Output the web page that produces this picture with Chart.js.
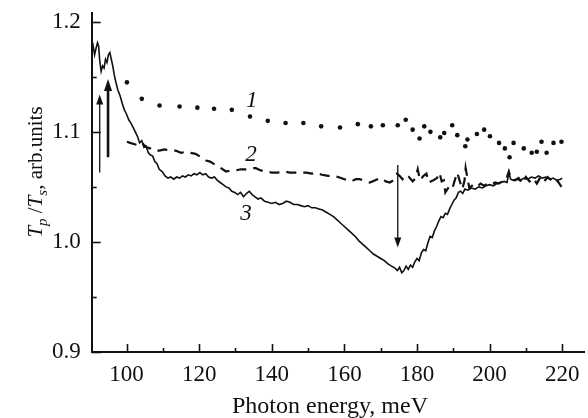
<!DOCTYPE html>
<html><head><meta charset="utf-8">
<script src="https://cdn.jsdelivr.net/npm/chart.js@4.4.0/dist/chart.umd.min.js"></script>
<style>html,body{margin:0;padding:0;background:#fff;}canvas{display:block;}</style>
</head><body>
<canvas id="c" width="588" height="418"></canvas>
<script>
// ---- data ----
const curve3E = [90.4,90.8,91.2,91.6,92.0,92.3,92.6,93.0,93.4,93.8,94.2,94.6,95.0,95.4,95.8,96.2,96.6,97.0,97.6,98.2,98.8,99.4,100.0,100.6,101.2,101.8,102.4,103.0,103.6,104.2,104.8,105.4,106.0,106.6,107.2,107.8,108.4,109.0,109.8,110.6,111.4,112.2,113.0,113.8,114.6,115.4,116.2,117.0,117.8,118.6,119.4,120.2,121.0,121.8,122.6,123.4,124.2,125.0,125.8,126.6,127.4,128.2,129.0,129.8,130.6,131.4,132.2,133.0,133.8,134.6,135.4,136.2,137.0,138.0,139.0,140.0,141.0,142.0,143.0,144.0,145.0,146.0,147.0,148.0,149.0,150.0,151.0,152.0,153.0,154.0,155.0,156.0,157.0,158.0,159.0,160.0,161.0,162.0,163.0,164.0,165.0,166.0,167.0,168.0,169.0,170.0,171.0,172.0,173.0,174.0,174.6,175.2,175.8,176.4,177.0,177.6,178.2,178.8,179.4,180.0,180.6,181.2,181.8,182.4,183.0,183.6,184.2,184.8,185.4,186.0,186.6,187.2,187.8,188.4,189.0,189.6,190.2,190.8,191.4,192.0,192.6,193.2,194.0,195.0,196.0,197.0,198.0,199.0,200.0,201.0,202.0,203.0,204.0,204.8,205.3,205.8,206.5,207.5,208.5,209.5,210.5,211.5,212.5,213.5,214.5,215.5,216.5,217.5,218.5,219.5,220.0];
const curve3T = [1.172,1.178,1.170,1.176,1.181,1.178,1.165,1.155,1.160,1.158,1.166,1.163,1.170,1.172,1.166,1.160,1.152,1.146,1.138,1.133,1.126,1.120,1.116,1.111,1.108,1.104,1.100,1.096,1.090,1.092,1.086,1.087,1.081,1.079,1.078,1.073,1.071,1.066,1.064,1.060,1.058,1.059,1.057,1.059,1.058,1.060,1.059,1.061,1.060,1.062,1.061,1.063,1.061,1.062,1.059,1.058,1.059,1.056,1.054,1.052,1.050,1.049,1.046,1.045,1.043,1.045,1.041,1.044,1.046,1.043,1.041,1.039,1.040,1.037,1.036,1.035,1.036,1.034,1.035,1.037,1.036,1.034,1.034,1.033,1.032,1.033,1.031,1.031,1.030,1.029,1.027,1.025,1.023,1.020,1.017,1.014,1.011,1.008,1.005,1.001,0.998,0.995,0.992,0.989,0.987,0.985,0.983,0.980,0.978,0.976,0.974,0.977,0.972,0.974,0.978,0.975,0.979,0.977,0.982,0.985,0.983,0.990,0.993,0.992,0.999,1.005,1.004,1.010,1.014,1.019,1.023,1.022,1.026,1.025,1.030,1.034,1.038,1.040,1.045,1.046,1.044,1.048,1.047,1.049,1.048,1.050,1.049,1.051,1.052,1.051,1.053,1.054,1.055,1.054,1.063,1.057,1.056,1.057,1.056,1.058,1.057,1.059,1.058,1.060,1.058,1.059,1.057,1.058,1.056,1.057,1.058];

const curve2E = [100.1,101.0,102.0,103.0,104.0,104.5,105.5,106.5,107.5,109.0,110.5,112.0,113.5,115.0,116.5,117.5,119.0,120.5,121.9,123.0,124.5,126.0,127.4,128.8,130.1,131.5,132.9,134.3,135.6,137.0,138.3,140.0,141.6,143.3,145.0,146.5,148.0,149.5,151.0,152.2,153.8,155.5,157.0,158.3,160.0,161.5,162.5,163.2,164.2,165.1,166.0,167.0,168.5,169.8,170.6,171.4,172.5,173.5,174.5,175.2,176.0,177.0,177.8,178.8,179.6,180.2,180.8,181.8,182.6,183.2,184.5,185.5,186.2,186.8,187.4,187.8,188.8,189.7,190.4,191.1,191.8,192.5,193.1,193.4,193.9,194.4,195.5,196.5,197.5,198.5,199.5,200.5,201.5,202.5,203.5,204.5,205.3,205.9,207.0,208.0,209.0,210.0,211.0,212.0,213.0,214.0,215.0,216.0,217.0,218.0,219.0,219.8];
const curve2T = [1.091,1.090,1.089,1.088,1.090,1.089,1.086,1.085,1.083,1.083,1.084,1.083,1.083,1.081,1.082,1.081,1.080,1.077,1.074,1.073,1.070,1.067,1.064,1.065,1.065,1.066,1.066,1.067,1.067,1.065,1.064,1.063,1.063,1.064,1.063,1.063,1.063,1.063,1.062,1.063,1.061,1.060,1.060,1.059,1.057,1.055,1.056,1.057,1.057,1.056,1.055,1.054,1.056,1.058,1.057,1.055,1.054,1.056,1.062,1.060,1.057,1.061,1.059,1.055,1.058,1.066,1.056,1.060,1.062,1.054,1.056,1.058,1.063,1.055,1.056,1.045,1.050,1.048,1.056,1.063,1.055,1.048,1.056,1.067,1.058,1.049,1.052,1.050,1.053,1.051,1.053,1.052,1.054,1.053,1.055,1.056,1.064,1.057,1.056,1.058,1.053,1.059,1.055,1.058,1.053,1.059,1.055,1.059,1.056,1.058,1.054,1.050];

const curve1E = [100.1,104.2,109.1,114.6,119.5,124.1,129.0,134.0,138.9,143.8,148.7,153.6,158.8,163.7,167.3,170.6,174.7,176.9,178.8,180.7,182.0,183.7,186.4,187.5,189.7,191.1,193.3,193.9,196.5,198.5,200.1,202.6,204.2,205.5,206.6,209.4,211.6,213.0,214.3,215.7,217.6,219.8];
const curve1T = [1.145,1.130,1.124,1.123,1.122,1.121,1.120,1.114,1.110,1.108,1.108,1.105,1.104,1.107,1.105,1.106,1.106,1.111,1.102,1.094,1.105,1.100,1.095,1.099,1.106,1.097,1.087,1.093,1.098,1.102,1.096,1.090,1.085,1.077,1.090,1.085,1.081,1.082,1.091,1.081,1.090,1.091];

const xTicks = [100,110,120,130,140,150,160,170,180,190,200,210,220];
const yTicks = [0.90,0.95,1.00,1.05,1.10,1.15,1.20];
const curveLabels = [{text:'1', e:134.5, t:1.128}, {text:'2', e:134.3, t:1.079}, {text:'3', e:132.9, t:1.025}];
const arrows = [
  {e:92.6, from:1.063, to:1.134, w:1.3},
  {e:94.9, from:1.077, to:1.148, w:2.6},
  {e:174.7, from:1.070, to:0.995, w:1.3}
];
const xTitle = 'Photon energy, meV';

const FONT = "'Liberation Serif', 'Times New Roman', serif";
const pts = (E, T) => E.map((e, i) => ({x: e, y: T[i]}));

const decor = {
  id: 'decor',
  afterDraw(chart) {
    const ctx = chart.ctx, xs = chart.scales.x, ys = chart.scales.y, ca = chart.chartArea;
    ctx.save();
    ctx.strokeStyle = '#111'; ctx.fillStyle = '#111';
    ctx.lineWidth = 1.6;
    xTicks.forEach(v => {
      const px = Math.round(xs.getPixelForValue(v)) + 0.5;
      const len = (v % 20 === 0) ? 8 : 4;
      ctx.beginPath(); ctx.moveTo(px, ca.bottom); ctx.lineTo(px, ca.bottom - len); ctx.stroke();
    });
    yTicks.forEach(v => {
      const py = Math.round(ys.getPixelForValue(v)) + 0.5;
      const major = Math.abs(v * 10 - Math.round(v * 10)) < 1e-6;
      const len = major ? 9 : 5;
      ctx.beginPath(); ctx.moveTo(ca.left, py); ctx.lineTo(ca.left + len, py); ctx.stroke();
    });
    arrows.forEach(a => {
      const px = xs.getPixelForValue(a.e);
      const y0 = ys.getPixelForValue(a.from), y1 = ys.getPixelForValue(a.to);
      const dir = y1 < y0 ? -1 : 1;
      const hl = a.w > 2 ? 12 : 10, hw = a.w > 2 ? 4 : 3.5;
      ctx.lineWidth = a.w;
      ctx.beginPath(); ctx.moveTo(px, y0); ctx.lineTo(px, y1 - dir * hl * 0.6); ctx.stroke();
      ctx.beginPath(); ctx.moveTo(px, y1); ctx.lineTo(px - hw, y1 - dir * hl); ctx.lineTo(px + hw, y1 - dir * hl); ctx.closePath(); ctx.fill();
    });
    ctx.font = "italic 23px " + FONT;
    ctx.textAlign = 'center'; ctx.textBaseline = 'middle';
    curveLabels.forEach(l => ctx.fillText(l.text, xs.getPixelForValue(l.e), ys.getPixelForValue(l.t)));
    ctx.font = "24px " + FONT;
    ctx.textAlign = 'center'; ctx.textBaseline = 'alphabetic';
    ctx.fillText(xTitle, 330, 413);
    const parts = [
      {t:'T', f:"italic 21px " + FONT, dy:0},
      {t:'p', f:"italic 15px " + FONT, dy:5},
      {t:' /', f:"21px " + FONT, dy:0},
      {t:'T', f:"italic 21px " + FONT, dy:0},
      {t:'s', f:"italic 15px " + FONT, dy:5},
      {t:', arb.units', f:"21px " + FONT, dy:0}
    ];
    let total = 0;
    parts.forEach(p => { ctx.font = p.f; p.w = ctx.measureText(p.t).width; total += p.w; });
    ctx.translate(42, 172); ctx.rotate(-Math.PI / 2);
    ctx.textAlign = 'left';
    let x = -total / 2;
    parts.forEach(p => { ctx.font = p.f; ctx.fillText(p.t, x, p.dy); x += p.w; });
    ctx.restore();
  }
};

new Chart(document.getElementById('c'), {
  type: 'scatter',
  data: {
    datasets: [
      {data: pts(curve3E, curve3T), showLine: true, borderColor: '#111', borderWidth: 1.6, pointRadius: 0, tension: 0},
      {data: pts(curve2E, curve2T), showLine: true, borderColor: '#111', borderWidth: 2.2, borderDash: [10, 7], pointRadius: 0, tension: 0},
      {data: pts(curve1E, curve1T), showLine: false, pointRadius: 2.3, pointBackgroundColor: '#111', pointBorderWidth: 0}
    ]
  },
  options: {
    responsive: false, animation: false, devicePixelRatio: 1,
    layout: {padding: {top: 13, right: 0, left: 0, bottom: 0}},
    plugins: {legend: {display: false}, tooltip: {enabled: false}},
    scales: {
      x: {
        type: 'linear', min: 90.4, max: 226,
        afterBuildTicks: s => { s.ticks = xTicks.map(v => ({value: v})); },
        afterFit: s => { s.height = 66; s.paddingLeft = 0; s.paddingRight = 0; },
        grid: {display: false, drawTicks: false},
        border: {display: true, color: '#111', width: 2},
        ticks: {autoSkip: false, maxRotation: 0, padding: 9, color: '#111',
          font: {family: FONT, size: 23},
          callback: v => (v % 20 === 0 ? String(v) : '')}
      },
      y: {
        type: 'linear', min: 0.9, max: 1.208,
        afterBuildTicks: s => { s.ticks = yTicks.map(v => ({value: v})); },
        afterFit: s => { s.width = 91.7; s.paddingTop = 0; s.paddingBottom = 0; },
        grid: {display: false, drawTicks: false},
        border: {display: true, color: '#111', width: 2},
        ticks: {autoSkip: false, padding: 11, color: '#111',
          font: {family: FONT, size: 23},
          callback: v => (Math.abs(v * 10 - Math.round(v * 10)) < 1e-6 ? v.toFixed(1) : '')}
      }
    }
  },
  plugins: [decor]
});
</script>
</body></html>
